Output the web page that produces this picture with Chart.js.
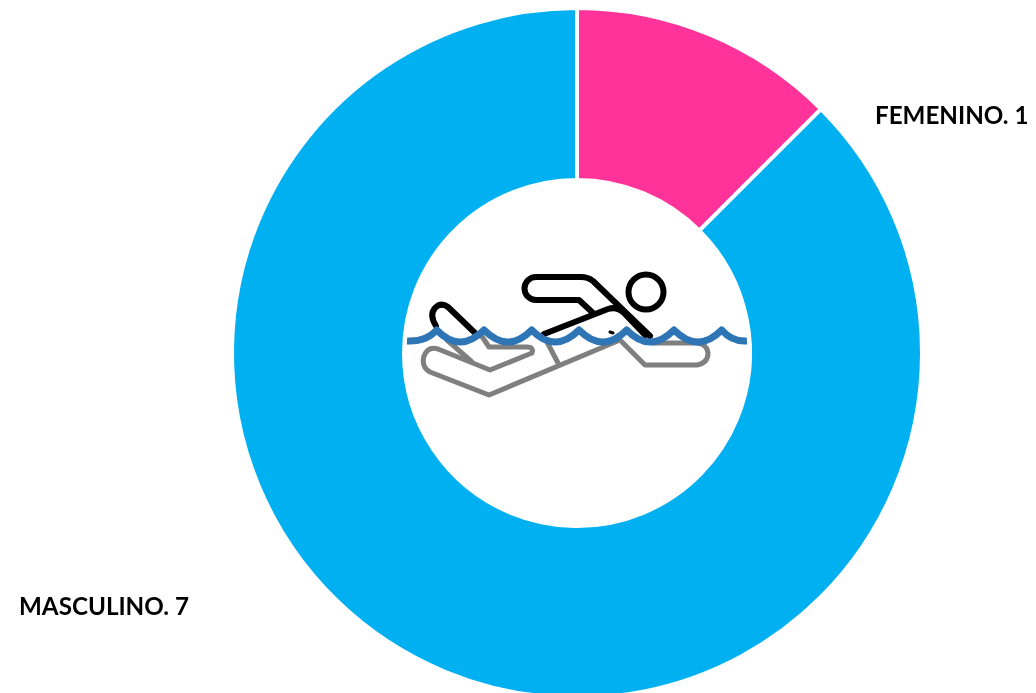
<!DOCTYPE html>
<html>
<head>
<meta charset="utf-8">
<style>
  html, body { margin: 0; padding: 0; background: #fff; overflow: hidden; width: 1036px; height: 693px; }
  #wrap { position: relative; width: 1036px; height: 693px; overflow: hidden; }
  canvas { position: absolute; left: 0; top: 0; }
  svg { position: absolute; left: 0; top: 0; }
</style>
<script src="https://cdn.jsdelivr.net/npm/chart.js@4"></script>
</head>
<body>
<div id="wrap">
  <canvas id="genderChart" width="1036" height="720"></canvas>
  <svg width="1036" height="693" fill="none" stroke-linecap="round" stroke-linejoin="round">
    <!-- gray reflection -->
    <g stroke="#7f7f7f" stroke-width="5">
      <path d="M481 335 L489 347 L527 347 Q534 347 532 353 L490 370 L438 349 Q428 346 424 356 Q421 367 430 372 L489 395 L620 340"/>
      <path d="M447 340 L472 362"/>
      <path d="M547 342 L558 363"/>
      <path d="M622 342 L645 365 L697 365 Q708 363 708 353 Q707 344 697 343 L653 343"/>
    </g>
    <!-- black swimmer -->
    <g stroke="#000" stroke-width="6">
      <circle cx="646" cy="292" r="17.5"/>
      <path d="M650 336 L593 281 Q588 277 581 277 L536 277 A11.5 11.5 0 0 0 536 300 L579 300 L593 313"/>
      <path d="M544 334 L608 309 Q617 306 624 313 L645 335"/>
      <path d="M474 332 L448 307 Q441 302 435 308 Q429 315 436 326"/>
    </g>
    <path stroke="#000" stroke-width="3" d="M610 332 L613 333"/>
    <!-- water line -->
    <path stroke="#2e75b6" stroke-width="7" stroke-linecap="butt" stroke-linejoin="round"
      d="M407 341 Q426 342 436.7 330 Q460 354 484 330 Q508 354 531.7 330 Q555 354 579 330 Q603 354 626.7 330 Q650 354 674 330 Q698 354 721.7 330 Q732 342 747 341"/>
  </svg>
</div>
<script>
const categories = ['FEMENINO', 'MASCULINO'];
const values = [1, 7];
const sliceColors = ['#FF3399', '#00B0F0'];

const sliceLabels = {
  id: 'sliceLabels',
  afterDraw(chart) {
    const ctx = chart.ctx;
    ctx.save();
    ctx.font = 'bold 24.2px Lato, sans-serif';
    ctx.fillStyle = '#000';
    ctx.textBaseline = 'middle';
    ctx.fillText(categories[0] + '. ' + values[0], 875, 116);
    ctx.fillText(categories[1] + '. ' + values[1], 19, 607);
    ctx.restore();
  }
};

new Chart(document.getElementById('genderChart').getContext('2d'), {
  type: 'doughnut',
  data: {
    labels: categories,
    datasets: [{ data: values, backgroundColor: sliceColors, borderColor: '#fff', borderWidth: 4 }]
  },
  options: {
    responsive: false,
    animation: false,
    cutout: 173,
    layout: { padding: { left: 118, right: 0, top: 6, bottom: 20 } },
    plugins: { legend: { display: false }, tooltip: { enabled: false } }
  },
  plugins: [sliceLabels]
});
</script>
</body>
</html>
